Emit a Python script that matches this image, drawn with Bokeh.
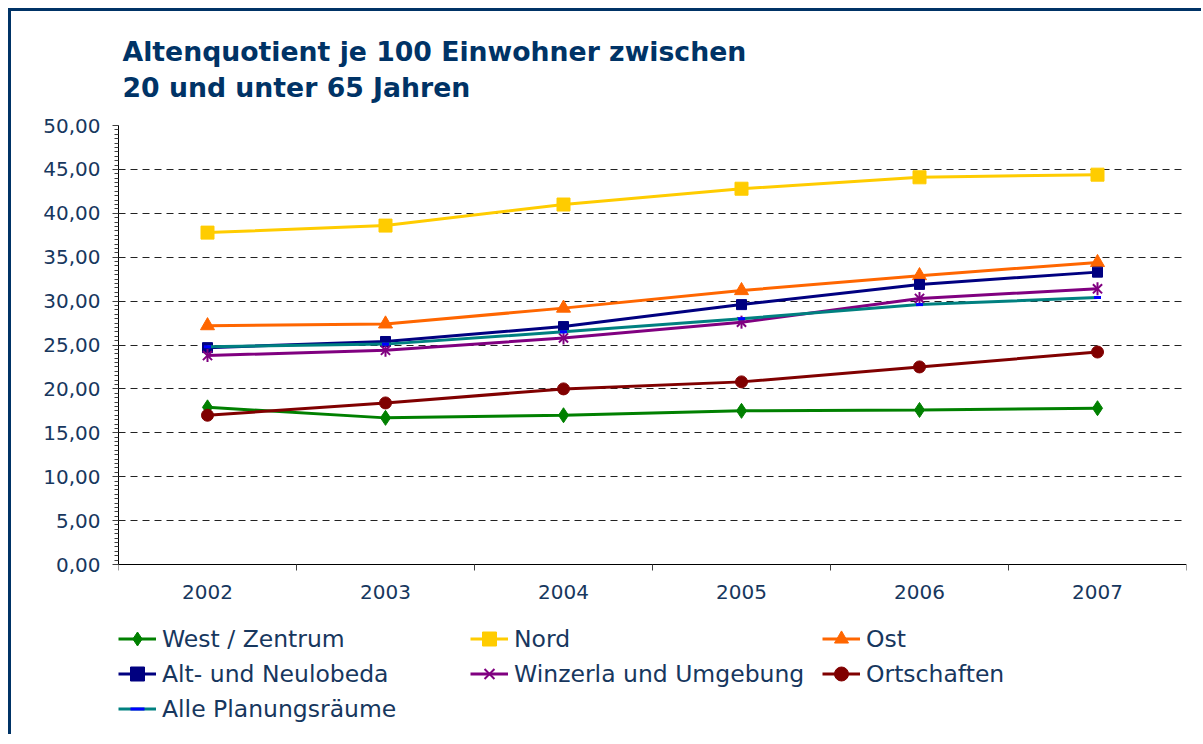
import math
from bokeh.plotting import figure
from bokeh.models import (FixedTicker, Legend, LegendItem, Range1d)
from bokeh.embed import file_html
from bokeh.resources import INLINE

# ---------------- data ----------------
years = ["2002", "2003", "2004", "2005", "2006", "2007"]
west_zentrum = [17.9, 16.7, 17.0, 17.5, 17.6, 17.8]
nord = [37.8, 38.6, 41.0, 42.8, 44.1, 44.4]
ost = [27.2, 27.4, 29.2, 31.2, 32.9, 34.4]
alt_neulobeda = [24.7, 25.4, 27.1, 29.6, 31.9, 33.3]
winzerla = [23.8, 24.4, 25.8, 27.6, 30.3, 31.4]
ortschaften = [17.0, 18.4, 20.0, 20.8, 22.5, 24.2]
alle = [24.8, 25.1, 26.5, 28.0, 29.6, 30.4]

y_ticks = [0, 5, 10, 15, 20, 25, 30, 35, 40, 45, 50]
y_tick_labels = ["0,00", "5,00", "10,00", "15,00", "20,00", "25,00",
                 "30,00", "35,00", "40,00", "45,00", "50,00"]

title_text = "Altenquotient je 100 Einwohner zwischen\n20 und unter 65 Jahren"

# ---------------- styling ----------------
FONT = "DejaVu Sans"
TXT = "#17375E"
DARK = "#003366"

x = [i + 0.5 for i in range(len(years))]
boundaries = list(range(len(years) + 1))

# plot area: value axis 0..50 occupies 439 px; frame extended downward to host legend
AXIS_PX = 439
FRAME_H = 606
y_lo = -50.0 * (FRAME_H - AXIS_PX) / AXIS_PX

p = figure(frame_width=1068, frame_height=FRAME_H, output_backend="svg",
           toolbar_location=None,
           x_range=Range1d(0, len(years)), y_range=Range1d(y_lo, 50),
           min_border_left=107, min_border_top=113, min_border_right=15,
           min_border_bottom=3)
p.styles = {"margin-left": "8px", "margin-top": "8px",
            "border-left": f"3px solid {DARK}", "border-top": f"3px solid {DARK}"}
p.outline_line_color = None
p.background_fill_color = "white"
p.border_fill_color = "white"

# title
p.title.text = title_text
p.title.text_font = FONT
p.title.text_font_size = "26.7px"
p.title.text_font_style = "bold"
p.title.text_color = DARK
p.title.align = "left"
p.title.offset = 4
p.title.standoff = 45
p.title.text_line_height = 1.15

# x axis (drawn at value 0)
xa = p.xaxis[0]
xa.fixed_location = 0
xa.ticker = FixedTicker(ticks=x, minor_ticks=boundaries)
xa.major_label_overrides = {xv: y for xv, y in zip(x, years)}
xa.major_tick_line_color = None
xa.major_tick_out = 6
xa.major_tick_in = 0
xa.minor_tick_out = 6
xa.minor_tick_in = 0
xa.minor_tick_line_color = "#404040"
xa.axis_line_color = "black"
xa.major_label_standoff = 14
xa.major_label_text_font = FONT
xa.major_label_text_font_size = "20px"
xa.major_label_text_color = TXT

# y axis
ya = p.yaxis[0]
ya.bounds = (0, 50)
minor = [i * 0.5 for i in range(101)]
ya.ticker = FixedTicker(ticks=y_ticks, minor_ticks=minor)
ya.major_label_overrides = {v: l for v, l in zip(y_ticks, y_tick_labels)}
ya.major_tick_out = 6
ya.major_tick_in = 0
ya.minor_tick_out = 4
ya.minor_tick_in = 0
ya.major_tick_line_color = "#404040"
ya.minor_tick_line_color = "#404040"
ya.axis_line_color = "black"
ya.major_label_standoff = 12
ya.major_label_text_font = FONT
ya.major_label_text_font_size = "20px"
ya.major_label_text_color = TXT

p.xgrid.grid_line_color = None
p.ygrid.ticker = FixedTicker(ticks=y_ticks[1:])
p.ygrid.grid_line_color = "#222222"
p.ygrid.grid_line_dash = "7 5"
p.ygrid.grid_line_width = 1

LW = 3
items = []

def series(vals, color, name, marker, size, mark_color=None):
    mc = mark_color or color
    rs = [p.line(x, vals, line_color=color, line_width=LW)]
    if marker == "star":
        rs.append(p.scatter(x, vals, marker="x", size=size, line_color=mc, line_width=2))
        rs.append(p.scatter(x, vals, marker="dash", size=size, angle=math.pi / 2,
                            line_color=mc, line_width=2))
    elif marker == "bar":
        rs.append(p.scatter(x, vals, marker="dash", size=size, line_color=mc, line_width=3))
    else:
        rs.append(p.scatter(x, vals, marker=marker, size=size, fill_color=mc,
                            line_color=mc))
    items.append(LegendItem(label=name, renderers=rs))

series(west_zentrum, "#008000", "West / Zentrum", "diamond", 15)
series(nord, "#FFCC00", "Nord", "square", 13)
series(ost, "#FF6600", "Ost", "triangle", 14)
series(alt_neulobeda, "#000080", "Alt- und Neulobeda", "square", 10)
series(winzerla, "#800080", "Winzerla und Umgebung", "star", 13)
series(ortschaften, "#800000", "Ortschaften", "circle", 12)
series(alle, "#008080", "Alle Planungsräume", "bar", 7, mark_color="#0000FF")

legend = Legend(items=items, location=(0, 5), orientation="horizontal", ncols=3,
                border_line_color=None, background_fill_alpha=0, padding=0, margin=0,
                spacing=0, glyph_width=38, glyph_height=35, label_height=35,
                label_width=308, label_standoff=6, label_text_font=FONT,
                label_text_font_size="23.5px", label_text_color=TXT)
p.add_layout(legend, "center")

open("out.html", "w").write(file_html(p, INLINE))
